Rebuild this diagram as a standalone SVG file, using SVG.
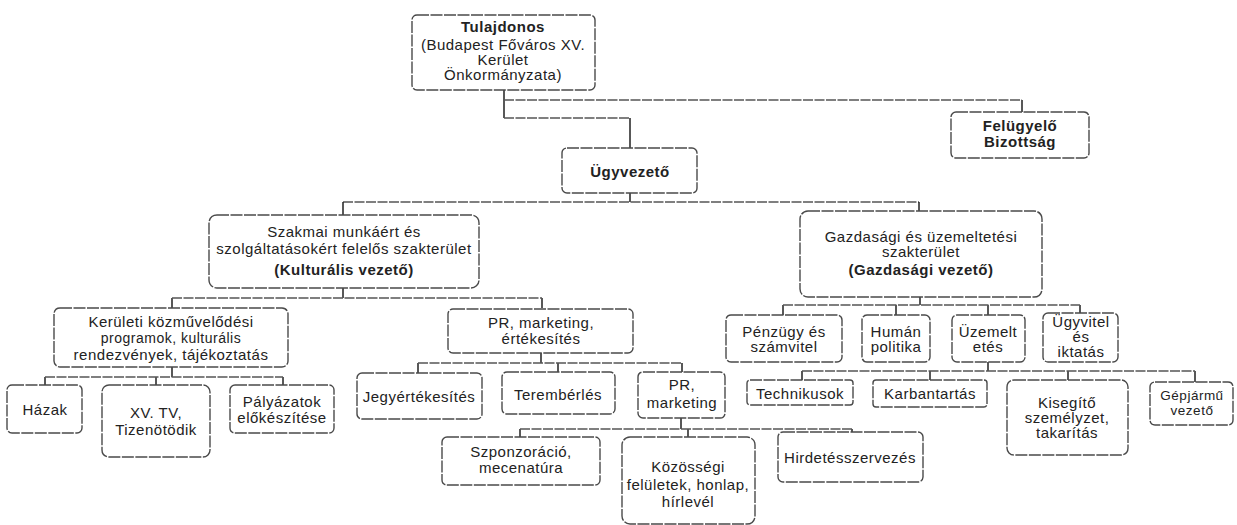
<svg xmlns="http://www.w3.org/2000/svg" width="1237" height="525" viewBox="0 0 1237 525">
<style>
.box{fill:#fff;stroke:#4a4a4a;stroke-width:1.4;stroke-dasharray:12 1.5}
.t{font-family:"Liberation Sans",Arial,sans-serif;font-size:15px;fill:#222;text-anchor:middle;letter-spacing:0.5px}
.s{font-size:14px}
.b{font-weight:bold}
.h{fill:none;stroke:#555;stroke-width:1.3;stroke-dasharray:10 1.5}
.v{fill:none;stroke:#222;stroke-width:1.5}
</style>
<rect width="1237" height="525" fill="#fff"/>
<g id="connectors">
<path class="v" d="M504 90V118M630 118V148M630 193V202M1022 100V112"/>
<path class="h" d="M504 100H1022M504 118H630M343 202H919"/>
<path class="v" d="M343 202V215M919 202V211"/>
<path class="v" d="M343 288V298M172 298V308M542 298V308"/>
<path class="h" d="M172 298H542"/>
<path class="v" d="M920 297V305M783 305V315M896 305V315M988 305V315M1080 305V313"/>
<path class="h" d="M783 305H1080"/>
<path class="v" d="M172 367V377M45 377V385M156 377V385M283 377V385"/>
<path class="h" d="M45 377H283"/>
<path class="v" d="M541 353V363M418 363V373M558 363V372M682 363V372"/>
<path class="h" d="M418 363H682"/>
<path class="v" d="M681 418V429M520 429V437M688 429V437M852 429V432"/>
<path class="h" d="M520 429H852"/>
<path class="v" d="M988 362V371M802 371V380M930 371V380M1068 371V380M1195 371V382"/>
<path class="h" d="M802 371H1195"/>
</g>
<g id="tulajdonos"><rect class="box" x="412" y="15" width="183" height="75" rx="5"/>
<text class="t b" x="503" y="32">Tulajdonos</text>
<text class="t" x="503" y="50">(Budapest Főváros XV.</text>
<text class="t" x="503" y="65">Kerület</text>
<text class="t" x="503" y="80">Önkormányzata)</text></g>
<g id="felugyelo"><rect class="box" x="951" y="112" width="138" height="46" rx="5"/>
<text class="t b" x="1020" y="131">Felügyelő</text>
<text class="t b" x="1020" y="147">Bizottság</text></g>
<g id="ugyvezeto"><rect class="box" x="562" y="148" width="135" height="45" rx="5"/>
<text class="t b" x="630" y="177">Ügyvezető</text></g>
<g id="szakmai"><rect class="box" x="209" y="215" width="270" height="73" rx="8"/>
<text class="t" x="344" y="237">Szakmai munkáért és</text>
<text class="t" x="344" y="254">szolgáltatásokért felelős szakterület</text>
<text class="t b" x="344" y="275">(Kulturális vezető)</text></g>
<g id="gazdasagi"><rect class="box" x="800" y="211" width="242" height="86" rx="8"/>
<text class="t" x="921" y="242">Gazdasági és üzemeltetési</text>
<text class="t" x="921" y="257">szakterület</text>
<text class="t b" x="921" y="275">(Gazdasági vezető)</text></g>
<g id="kerulet"><rect class="box" x="54" y="308" width="234" height="59" rx="6"/>
<text class="t" x="171" y="327">Kerületi közművelődési</text>
<text class="t s" x="171" y="343">programok, kulturális</text>
<text class="t" x="171" y="360">rendezvények, tájékoztatás</text></g>
<g id="pr-ertek"><rect class="box" x="448" y="309" width="185" height="44" rx="5"/>
<text class="t" x="541" y="328">PR, marketing,</text>
<text class="t" x="541" y="344">értékesítés</text></g>
<g id="penzugy"><rect class="box" x="726" y="315" width="116" height="47" rx="5"/>
<text class="t" x="784" y="337">Pénzügy és</text>
<text class="t" x="784" y="352">számvitel</text></g>
<g id="human"><rect class="box" x="862" y="315" width="68" height="47" rx="5"/>
<text class="t" x="896" y="337">Humán</text>
<text class="t" x="896" y="352">politika</text></g>
<g id="uzemeltetes"><rect class="box" x="952" y="315" width="73" height="47" rx="5"/>
<text class="t" x="988" y="337">Üzemelt</text>
<text class="t" x="988" y="352">etés</text></g>
<g id="ugyvitel"><rect class="box" x="1043" y="313" width="75" height="49" rx="5"/>
<text class="t" x="1081" y="327">Ügyvitel</text>
<text class="t" x="1081" y="342">és</text>
<text class="t" x="1081" y="357">iktatás</text></g>
<g id="hazak"><rect class="box" x="7" y="385" width="75" height="48" rx="5"/>
<text class="t" x="45" y="415">Házak</text></g>
<g id="xvtv"><rect class="box" x="102" y="385" width="108" height="72" rx="7"/>
<text class="t" x="156" y="418">XV. TV,</text>
<text class="t" x="156" y="435">Tizenötödik</text></g>
<g id="palyazatok"><rect class="box" x="230" y="385" width="104" height="48" rx="5"/>
<text class="t" x="282" y="407">Pályázatok</text>
<text class="t" x="282" y="423">előkészítése</text></g>
<g id="jegy"><rect class="box" x="357" y="373" width="125" height="46" rx="5"/>
<text class="t" x="419" y="402">Jegyértékesítés</text></g>
<g id="terem"><rect class="box" x="502" y="372" width="113" height="42" rx="5"/>
<text class="t" x="558" y="400">Terembérlés</text></g>
<g id="prmarketing"><rect class="box" x="638" y="372" width="87" height="46" rx="5"/>
<text class="t" x="682" y="390">PR,</text>
<text class="t" x="682" y="408">marketing</text></g>
<g id="szponzor"><rect class="box" x="442" y="437" width="158" height="48" rx="5"/>
<text class="t" x="521" y="457">Szponzoráció,</text>
<text class="t" x="521" y="473">mecenatúra</text></g>
<g id="kozossegi"><rect class="box" x="622" y="437" width="133" height="87" rx="8"/>
<text class="t" x="688" y="472">Közösségi</text>
<text class="t" x="688" y="490">felületek, honlap,</text>
<text class="t" x="688" y="507">hírlevél</text></g>
<g id="hirdetes"><rect class="box" x="778" y="432" width="145" height="50" rx="5"/>
<text class="t" x="850" y="463">Hirdetésszervezés</text></g>
<g id="technikusok"><rect class="box" x="747" y="380" width="106" height="25" rx="3"/>
<text class="t" x="800" y="399">Technikusok</text></g>
<g id="karbantartas"><rect class="box" x="873" y="380" width="114" height="27" rx="3"/>
<text class="t" x="930" y="399">Karbantartás</text></g>
<g id="kisegito"><rect class="box" x="1007" y="380" width="121" height="75" rx="7"/>
<text class="t" x="1067" y="408">Kisegítő</text>
<text class="t" x="1067" y="423">személyzet,</text>
<text class="t" x="1067" y="438">takarítás</text></g>
<g id="gepjarmu"><rect class="box" x="1150" y="382" width="83" height="43" rx="5"/>
<text class="t" x="1192" y="400" style="font-size:13.5px">Gépjármű</text>
<text class="t" x="1192" y="415" style="font-size:13.5px">vezető</text></g>
</svg>
